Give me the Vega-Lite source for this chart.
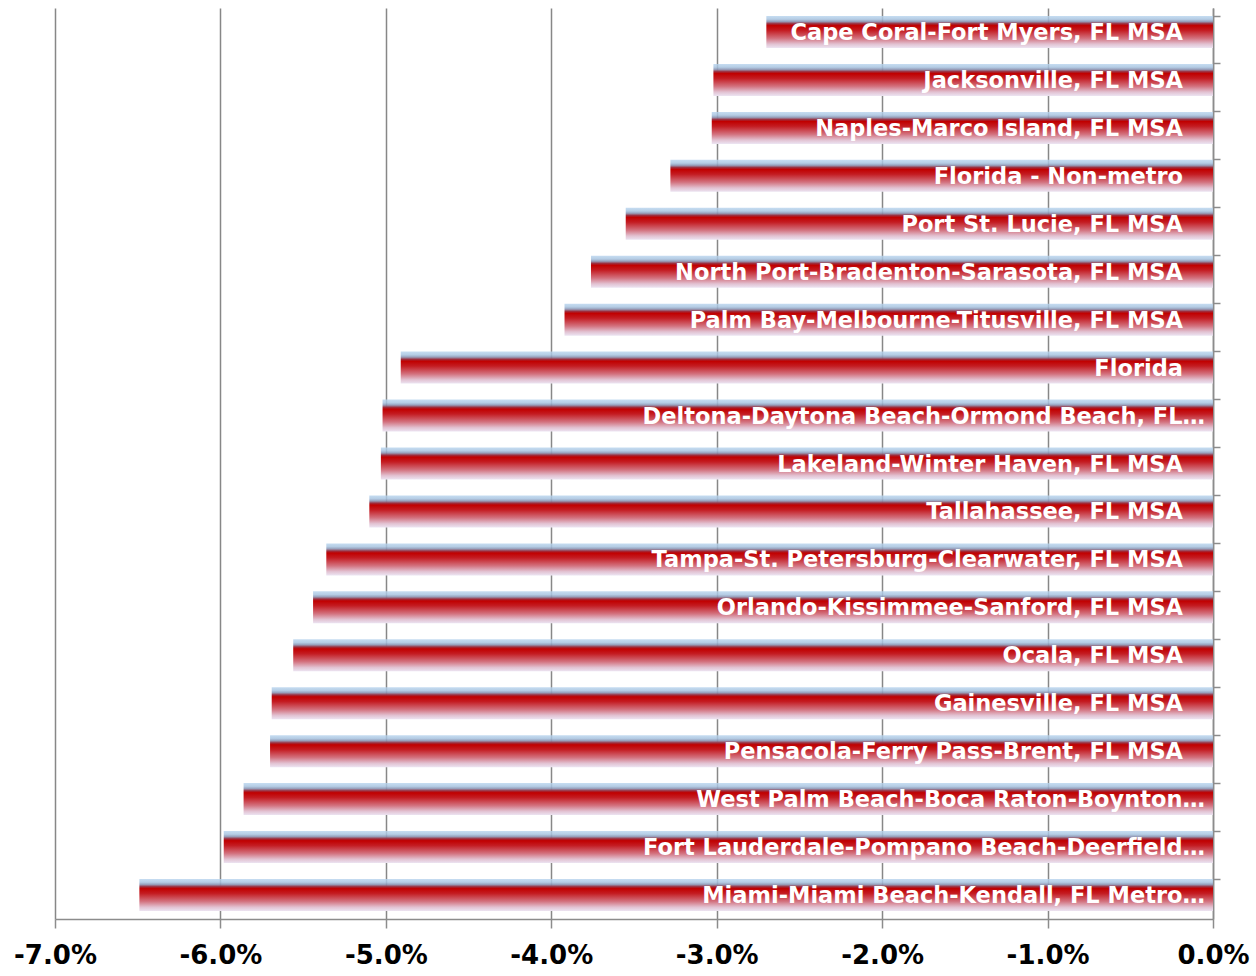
{
  "$schema": "https://vega.github.io/schema/vega-lite/v6.json",
  "width": 1158,
  "height": 911,
  "autosize": {"type": "none"},
  "padding": {"left": 55, "top": 8, "right": 43, "bottom": 57},
  "background": "#ffffff",
  "config": {"view": {"stroke": null}},
  "data": {
    "values": [
      {"area": "Cape Coral-Fort Myers, FL MSA", "change": -0.0270},
      {"area": "Jacksonville, FL MSA", "change": -0.0302},
      {"area": "Naples-Marco Island, FL MSA", "change": -0.0303},
      {"area": "Florida - Non-metro", "change": -0.0328},
      {"area": "Port St. Lucie, FL MSA", "change": -0.0355},
      {"area": "North Port-Bradenton-Sarasota, FL MSA", "change": -0.0376},
      {"area": "Palm Bay-Melbourne-Titusville, FL MSA", "change": -0.0392},
      {"area": "Florida", "change": -0.0491},
      {"area": "Deltona-Daytona Beach-Ormond Beach, FL…", "change": -0.0502},
      {"area": "Lakeland-Winter Haven, FL MSA", "change": -0.0503},
      {"area": "Tallahassee, FL MSA", "change": -0.0510},
      {"area": "Tampa-St. Petersburg-Clearwater, FL MSA", "change": -0.0536},
      {"area": "Orlando-Kissimmee-Sanford, FL MSA", "change": -0.0544},
      {"area": "Ocala, FL MSA", "change": -0.0556},
      {"area": "Gainesville, FL MSA", "change": -0.0569},
      {"area": "Pensacola-Ferry Pass-Brent, FL MSA", "change": -0.0570},
      {"area": "West Palm Beach-Boca Raton-Boynton…", "change": -0.0586},
      {"area": "Fort Lauderdale-Pompano Beach-Deerfield…", "change": -0.0598},
      {"area": "Miami-Miami Beach-Kendall, FL Metro…", "change": -0.0649}
    ]
  },
  "encoding": {
    "y": {
      "field": "area",
      "type": "nominal",
      "sort": null,
      "scale": {"paddingInner": 0.333, "paddingOuter": 0.167},
      "axis": {
        "orient": "right",
        "title": null,
        "labels": false,
        "bandPosition": 0,
        "domainColor": "#8c8c8c",
        "domainWidth": 1.5,
        "tickColor": "#8c8c8c",
        "tickWidth": 1.5,
        "tickSize": 7
      }
    }
  },
  "layer": [
    {
      "mark": {
        "type": "bar",
        "color": {
          "gradient": "linear",
          "x1": 0, "y1": 0, "x2": 0, "y2": 1,
          "stops": [
            {"offset": 0, "color": "rgba(184,212,238,0.8)"},
            {"offset": 0.1, "color": "rgba(168,196,224,0.85)"},
            {"offset": 0.17, "color": "rgba(140,150,180,0.9)"},
            {"offset": 0.24, "color": "#9c3040"},
            {"offset": 0.3, "color": "#c00000"},
            {"offset": 0.45, "color": "#c41c22"},
            {"offset": 0.7, "color": "#d3727f"},
            {"offset": 0.88, "color": "#e2c2d2"},
            {"offset": 1, "color": "#ece4f2"}
          ]
        }
      },
      "encoding": {
        "x": {
          "field": "change",
          "type": "quantitative",
          "scale": {"domain": [-0.07, 0], "nice": false, "zero": false},
          "axis": {
            "title": null,
            "values": [-0.07, -0.06, -0.05, -0.04, -0.03, -0.02, -0.01, 0],
            "labelExpr": "replace(format(datum.value, '.1%'), '−', '-')",
            "grid": true,
            "gridColor": "#878787",
            "gridWidth": 1.5,
            "domainColor": "#8c8c8c",
            "domainWidth": 1.5,
            "tickColor": "#8c8c8c",
            "tickWidth": 1.5,
            "tickSize": 9,
            "labelFont": "DejaVu Sans",
            "labelFontWeight": "bold",
            "labelFontSize": 26,
            "labelColor": "#000000",
            "labelPadding": 14,
            "labelFlush": false
          }
        }
      }
    },
    {
      "transform": [{"filter": "indexof(datum.area, '…') < 0"}],
      "mark": {
        "type": "text",
        "align": "right",
        "baseline": "middle",
        "dx": -30,
        "dy": 1,
        "font": "DejaVu Sans",
        "fontWeight": "bold",
        "fontSize": 22.5,
        "color": "#ffffff"
      },
      "encoding": {
        "x": {"datum": 0, "type": "quantitative"},
        "text": {"field": "area"}
      }
    },
    {
      "transform": [{"filter": "indexof(datum.area, '…') >= 0"}],
      "mark": {
        "type": "text",
        "align": "right",
        "baseline": "middle",
        "dx": -8,
        "dy": 1,
        "font": "DejaVu Sans",
        "fontWeight": "bold",
        "fontSize": 22.5,
        "color": "#ffffff"
      },
      "encoding": {
        "x": {"datum": 0, "type": "quantitative"},
        "text": {"field": "area"}
      }
    }
  ]
}
